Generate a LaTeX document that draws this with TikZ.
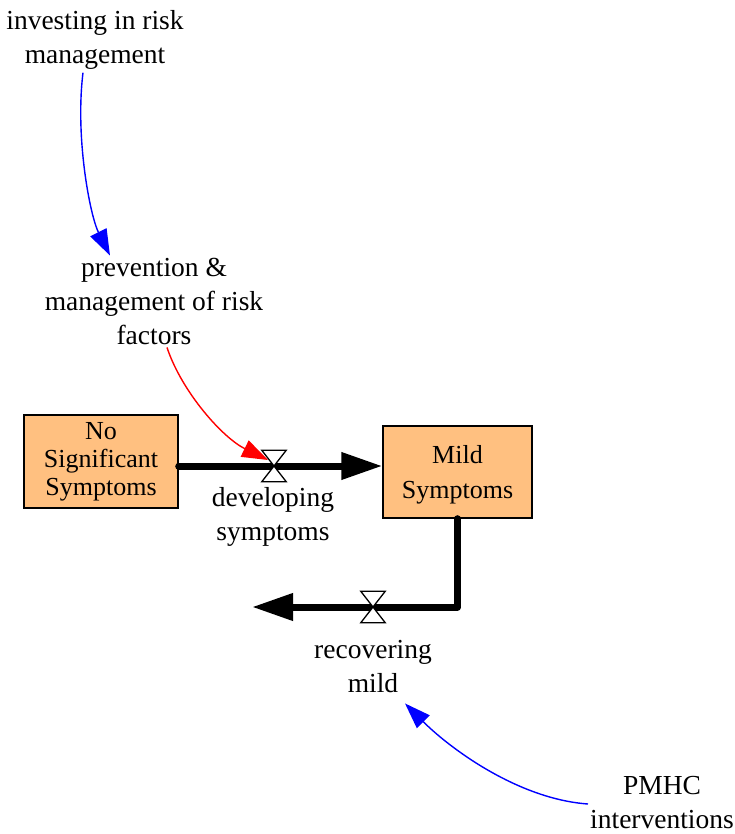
\documentclass[tikz,border=0pt]{standalone}
\usepackage{fontspec}
\setmainfont{LiberationSerif}[Extension=.ttf, UprightFont=*-Regular, BoldFont=*-Bold, ItalicFont=*-Italic, BoldItalicFont=*-BoldItalic]
\usetikzlibrary{arrows.meta,calc}
\definecolor{stockfill}{RGB}{255,192,128}
\begin{document}
\begin{tikzpicture}[x=1pt,y=-1pt,
  lbl/.style={align=center, inner sep=0pt, font=\fontsize{27.5}{34}\selectfont},
  stock/.style={draw=black, line width=1.4pt, fill=stockfill, align=center, inner sep=0pt},
  flow/.style={line width=7pt, line cap=round, line join=round,
    -{Triangle[length=41pt,width=26pt]}},
  valve/.style={minimum width=24pt, minimum height=31pt, inner sep=0pt},
  valveshape/.style={draw=black, line width=1.3pt, fill=white, line join=miter},
  info/.style={draw=#1, line width=1.4pt, -{Triangle[length=26pt,width=18pt,color=#1]}}]
\useasboundingbox (0,0) rectangle (735,834);

% stocks
\node[stock, minimum width=154pt, minimum height=93pt,
      font=\fontsize{26}{28}\selectfont] (nss) at (101,461.5) {No\\Significant\\Symptoms};
\node[stock, minimum width=149pt, minimum height=92pt,
      font=\fontsize{26}{35}\selectfont] (mild) at (457.5,472) {\rule{0pt}{24pt}Mild\\Symptoms};

% auxiliaries and flow labels
\node[lbl] (invest) at (95,40) {investing in risk\\management};
\node[lbl] (prev) at (154,301) {prevention \&\\management of risk\\factors};
\node[lbl] (dev) at (273,517) {developing\\symptoms};
\node[lbl] (recov) at (373,667) {recovering\\mild};
\node[lbl] (pmhc) at (662,803) {PMHC\\interventions};

% valves
\node[valve] (v1) at (274,466) {};
\node[valve] (v2) at (373,607) {};
\coordinate (sink) at (252,607);

% flow pipes
\draw[flow] (nss.east |- v1) -- (mild.west |- v1);
\draw[flow] (mild.south) |- (sink);

% valve bowties
\foreach \v in {v1,v2}
  \draw[valveshape] (\v.north west) -- (\v.north east) -- (\v.south west) -- (\v.south east) -- cycle;

% information links
\draw[info=blue] ($(invest.south)+(-12,3)$) .. controls +(-8,65) and +(-20,-40) .. ($(prev.north)+(-44,-2)$);
\draw[info=red] ($(prev.south)+(13,3)$) .. controls +(15,45) and +(-45,-22) .. ($(v1)+(-6,-6)$);
\draw[info=blue] ($(pmhc.west)+(-2,1)$) .. controls +(-70,-5) and +(45,45) .. ($(recov.south)+(32,10)$);
\end{tikzpicture}
\end{document}
